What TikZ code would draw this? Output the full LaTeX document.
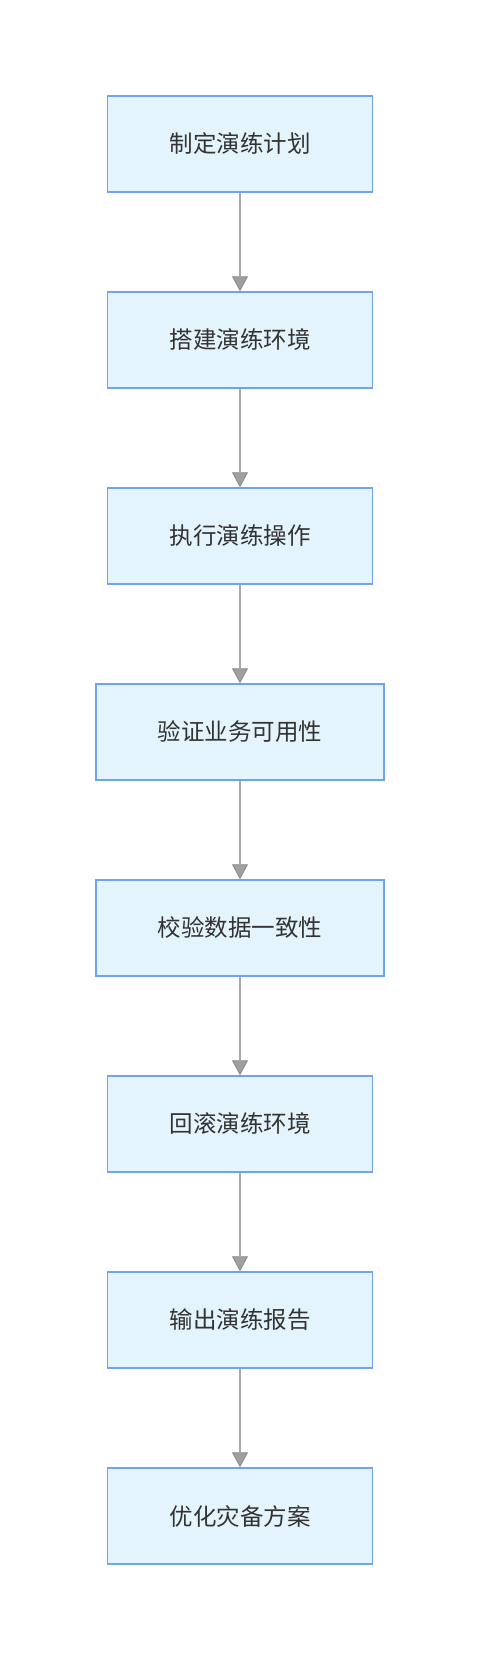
\documentclass[tikz,border=0pt]{standalone}
\usepackage{fontspec}
\newfontfamily\cjk{Noto Sans CJK SC}
\usetikzlibrary{arrows.meta}
\definecolor{stepfill}{HTML}{E4F4FD}
\definecolor{stepline}{HTML}{70A3F7}
\definecolor{flowgray}{HTML}{A8A8A8}
\definecolor{tipgray}{HTML}{8A8A8A}
\definecolor{textgray}{HTML}{333333}
\begin{document}
\begin{tikzpicture} [
                x=1pt, y=-1pt,
                stepbox/.style={rectangle,fill=stepfill,draw=stepline,line width=1.5pt,
                    minimum height=96pt,inner sep=0pt,text=textgray,
                    font=\cjk\fontsize{23.5}{28}\selectfont},
                flow/.style = {draw=flowgray,line width=2pt,
                    -{Triangle[width=16pt,length=15pt,color=tipgray,fill=flowgray!95!black,line width=0.8pt]}},
            ]
            \useasboundingbox (0,0) rectangle (480,1660);
            % First we draw the steps
            \foreach \pos/\name/\boxw/\txt in {
                    {(240,144)/plan/265/制定演练计划},
                    {(240,340)/setup/265/搭建演练环境},
                    {(240,536)/exec/265/执行演练操作},
                    {(240,732)/verify/288/验证业务可用性},
                    {(240,928)/check/288/校验数据一致性},
                    {(240,1124)/rollback/265/回滚演练环境},
                    {(240,1320)/report/265/输出演练报告},
                    {(240,1516)/optimize/265/优化灾备方案}}
                \node[stepbox,minimum width=\boxw pt] (\name) at \pos {\txt};
            % Connect steps with arrows
            \foreach \source/ \dest in {
                    plan/setup, setup/exec, exec/verify, verify/check,
                    check/rollback, rollback/report, report/optimize}
                \path[flow] (\source) -- (\dest);
        \end{tikzpicture}
\end{document}
